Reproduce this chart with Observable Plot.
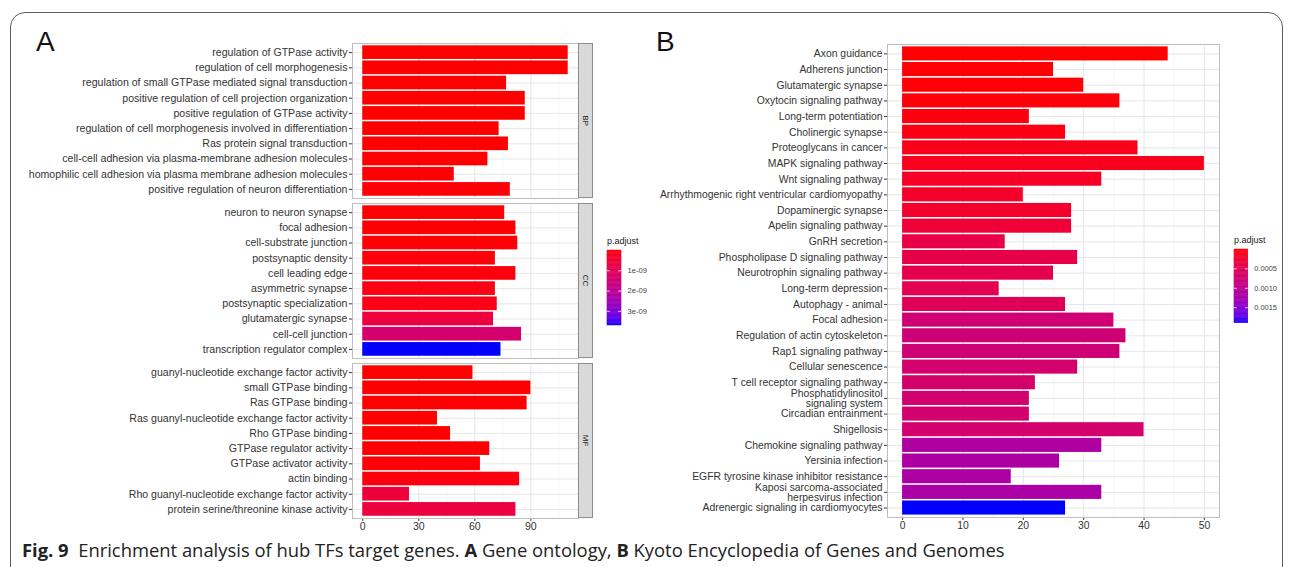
<!DOCTYPE html>
<html><head><meta charset="utf-8">
<script src="https://cdn.jsdelivr.net/npm/d3@7"></script>
<script src="https://cdn.jsdelivr.net/npm/@observablehq/plot@0.6"></script>
<style>
body{margin:0;background:#fff;}
#root{position:relative;width:1293px;height:567px;overflow:hidden;background:#fff;font-family:'Liberation Sans',Arial,sans-serif;}
#frame{position:absolute;left:10px;top:12px;width:1273px;height:575px;border:1.5px solid #5c5c5c;border-radius:15px;box-sizing:border-box;}
.letter{position:absolute;font-family:'Liberation Sans',Arial,sans-serif;font-size:28px;line-height:28px;color:#111;}
.ltitle{position:absolute;font-family:'Liberation Sans',Arial,sans-serif;font-size:9px;line-height:9px;color:#222;}
#caption{position:absolute;left:22px;top:538px;font-family:'Open Sans',sans-serif;font-size:18.4px;line-height:24px;color:#222;white-space:nowrap;}
#caption b{font-weight:700;}
</style></head><body>
<div id="root">
  <div id="frame"></div>
  <div class="letter" style="left:36px;top:28px;">A</div>
  <div class="letter" style="left:656px;top:28px;">B</div>
  <div class="ltitle" style="left:607px;top:237px;">p.adjust</div>
  <div class="ltitle" style="left:1234px;top:236px;">p.adjust</div>
  <div id="caption"><b>Fig. 9</b>&nbsp; Enrichment analysis of hub TFs target genes. <b>A</b> Gene ontology, <b>B</b> Kyoto Encyclopedia of Genes and Genomes</div>
</div>
<script>
// ---------- GO (panel A) ----------
const termsBP = ["regulation of GTPase activity","regulation of cell morphogenesis","regulation of small GTPase mediated signal transduction","positive regulation of cell projection organization","positive regulation of GTPase activity","regulation of cell morphogenesis involved in differentiation","Ras protein signal transduction","cell-cell adhesion via plasma-membrane adhesion molecules","homophilic cell adhesion via plasma membrane adhesion molecules","positive regulation of neuron differentiation"];
const countsBP = [110,110,77,87,87,73,78,67,49,79];
const padjBP = [2e-14,3e-14,5e-13,8e-13,1e-12,2e-12,4e-12,1e-11,2e-11,4e-11];

const termsCC = ["neuron to neuron synapse","focal adhesion","cell-substrate junction","postsynaptic density","cell leading edge","asymmetric synapse","postsynaptic specialization","glutamatergic synapse","cell-cell junction","transcription regulator complex"];
const countsCC = [76,82,83,71,82,71,72,70,85,74];
const padjCC = [1e-11,2e-11,3e-11,6e-11,8e-11,1.2e-10,1.5e-10,6.5e-10,1.4e-9,3.7e-9];

const termsMF = ["guanyl-nucleotide exchange factor activity","small GTPase binding","Ras GTPase binding","Ras guanyl-nucleotide exchange factor activity","Rho GTPase binding","GTPase regulator activity","GTPase activator activity","actin binding","Rho guanyl-nucleotide exchange factor activity","protein serine/threonine kinase activity"];
const countsMF = [59,90,88,40,47,68,63,84,25,82];
const padjMF = [1e-13,2e-13,5e-13,1e-12,4e-12,2e-11,3e-11,1e-10,6e-10,6.5e-10];

const facetNames = ["BP","CC","MF"];
const ticksA = [0,30,60,90];
const minorA = [15,45,75,105];
const legendTicksA = [1e-9,2e-9,3e-9];

// ---------- KEGG (panel B) ----------
const termsKEGG = ["Axon guidance","Adherens junction","Glutamatergic synapse","Oxytocin signaling pathway","Long-term potentiation","Cholinergic synapse","Proteoglycans in cancer","MAPK signaling pathway","Wnt signaling pathway","Arrhythmogenic right ventricular cardiomyopathy","Dopaminergic synapse","Apelin signaling pathway","GnRH secretion","Phospholipase D signaling pathway","Neurotrophin signaling pathway","Long-term depression","Autophagy - animal","Focal adhesion","Regulation of actin cytoskeleton","Rap1 signaling pathway","Cellular senescence","T cell receptor signaling pathway","Phosphatidylinositol\nsignaling system","Circadian entrainment","Shigellosis","Chemokine signaling pathway","Yersinia infection","EGFR tyrosine kinase inhibitor resistance","Kaposi sarcoma-associated\nherpesvirus infection","Adrenergic signaling in cardiomyocytes"];
const countsKEGG = [44,25,30,36,21,27,39,50,33,20,28,28,17,29,25,16,27,35,37,36,29,22,21,21,40,33,26,18,33,27];
const padjKEGG = [1e-6,1e-5,2e-5,3e-5,5e-5,7e-5,1.0e-4,1.2e-4,1.6e-4,2.0e-4,2.1e-4,2.8e-4,4.0e-4,4.2e-4,4.6e-4,5.0e-4,5.4e-4,7.8e-4,8.0e-4,8.0e-4,7.2e-4,7.0e-4,7.3e-4,7.3e-4,7.2e-4,1.15e-3,1.16e-3,1.18e-3,1.2e-3,1.9e-3];
const ticksB = [0,10,20,30,40,50];
const minorB = [5,15,25,35,45];
const legendTicksB = [0.0005,0.0010,0.0015];

// ---------- helpers ----------
const FONT = "'Liberation Sans', Arial, sans-serif";
const root = document.getElementById("root");
function place(el, left, top){
  const d = document.createElement("div");
  d.style.cssText = `position:absolute;left:${left}px;top:${top}px;`;
  d.appendChild(el); root.appendChild(d);
}
function expand(max){ const e = max*0.05; return [-e, max+e]; }

const allA = [...padjBP, ...padjCC, ...padjMF];
const colorA = {type:"linear", domain:[d3.min(allA), d3.max(allA)], range:["red","blue"], interpolate:"lab"};
const colorB = {type:"linear", domain:[d3.min(padjKEGG), d3.max(padjKEGG)], range:["red","blue"], interpolate:"lab"};
const xDomA = expand(d3.max([...countsBP, ...countsCC, ...countsMF]));
const xDomB = expand(d3.max(countsKEGG));

const rowH = 15.2;
const facetH = rowH * 10.2;

function facet(terms, counts, padj, name, showX){
  const data = terms.map((t,i)=>({term:t, count:counts[i], p:padj[i]}));
  const mb = showX ? 20 : 0;
  const plot = Plot.plot({
    width: 594, height: facetH + mb,
    marginLeft: 352, marginRight: 16, marginTop: 0, marginBottom: mb,
    style: {fontFamily: FONT, fontSize: "10.6px", color: "#333", overflow: "visible", background: "none"},
    x: {domain: xDomA, ticks: ticksA, axis: showX ? "bottom" : null, tickSize: 3, tickPadding: 1, label: null},
    y: {domain: terms, paddingInner: 0.1, paddingOuter: 0.15, round: false, tickSize: 3, tickPadding: 2, label: null},
    color: colorA,
    marks: [
      Plot.ruleX(minorA, {stroke: "#f2f2f2", strokeWidth: 0.7}),
      Plot.ruleX(ticksA, {stroke: "#e6e6e6", strokeWidth: 1}),
      Plot.gridY({stroke: "#e6e6e6", strokeOpacity: 1}),
      Plot.barX(data, {x: "count", y: "term", fill: "p"}),
      Plot.frame({stroke: "#bdbdbd"})
    ]
  });
  const xr = plot.scale("x").range, yr = plot.scale("y").range;
  const s = d3.select(plot);
  const x0 = xr[1], y0 = Math.min(...yr), y1 = Math.max(...yr);
  s.append("rect").attr("x", x0+0.5).attr("y", y0+0.5).attr("width", 14).attr("height", y1-y0-1)
    .attr("fill", "#d9d9d9").attr("stroke", "#8c8c8c").attr("stroke-width", 1);
  s.append("text").attr("transform", `translate(${x0+7.5},${(y0+y1)/2}) rotate(90)`)
    .attr("text-anchor", "middle").attr("dy", "0.35em").attr("font-size", 8).attr("fill", "#1a1a1a").text(name);
  return plot;
}

place(facet(termsBP, countsBP, padjBP, facetNames[0], false), 0, 43);
place(facet(termsCC, countsCC, padjCC, facetNames[1], false), 0, 203);
place(facet(termsMF, countsMF, padjMF, facetNames[2], true), 0, 363);

// panel B
const rowB = 15.66;
const hB = rowB * 30.2;
const dataB = termsKEGG.map((t,i)=>({term:t, count:countsKEGG[i], p:padjKEGG[i]}));
const plotB = Plot.plot({
  width: 599, height: hB + 20,
  marginLeft: 267, marginRight: 0, marginTop: 0, marginBottom: 20,
  style: {fontFamily: FONT, fontSize: "10.4px", color: "#333", overflow: "visible", background: "none"},
  x: {domain: xDomB, ticks: ticksB, tickSize: 3, tickPadding: 1, label: null},
  y: {domain: termsKEGG, paddingInner: 0.1, paddingOuter: 0.15, round: false, tickSize: 3, tickPadding: 2, label: null},
  color: colorB,
  marks: [
    Plot.ruleX(minorB, {stroke: "#f2f2f2", strokeWidth: 0.7}),
    Plot.ruleX(ticksB, {stroke: "#e6e6e6", strokeWidth: 1}),
    Plot.gridY({stroke: "#e6e6e6", strokeOpacity: 1}),
    Plot.barX(dataB, {x: "count", y: "term", fill: "p"}),
    Plot.frame({stroke: "#bdbdbd"})
  ]
});
place(plotB, 620, 44);

// colour bars
function colorbar(color, ticks, fmt, h){
  const [lo, hi] = color.domain;
  const n = 60;
  const bins = d3.range(n).map(i => ({a: lo + (hi-lo)*i/n, b: lo + (hi-lo)*(i+1)/n, m: lo + (hi-lo)*(i+0.5)/n}));
  return Plot.plot({
    width: 60, height: h, marginLeft: 0, marginRight: 46, marginTop: 0, marginBottom: 0,
    style: {fontFamily: FONT, fontSize: "7.6px", color: "#444", overflow: "visible", background: "none"},
    x: {domain: [0,1], axis: null},
    y: {type: "linear", domain: [lo, hi], reverse: true, axis: "right", ticks, tickFormat: fmt, tickSize: 0, tickPadding: 6, label: null},
    color,
    marks: [
      Plot.rect(bins, {x1: 0, x2: 1, y1: "a", y2: "b", fill: "m", stroke: "m", strokeWidth: 0.5}),
      Plot.ruleY(ticks, {x1: 0, x2: 0.2, stroke: "white", strokeWidth: 0.8}),
      Plot.ruleY(ticks, {x1: 0.8, x2: 1, stroke: "white", strokeWidth: 0.8})
    ]
  });
}
const fmtA = v => { const [m, e] = v.toExponential(0).split("e"); const n = Math.abs(+e); return `${m}e${+e<0?"-":"+"}${String(n).padStart(2,"0")}`; };
place(colorbar(colorA, legendTicksA, fmtA, 75), 607, 250);
place(colorbar(colorB, legendTicksB, d3.format(".4f"), 75), 1234, 249);
</script>
</body></html>
